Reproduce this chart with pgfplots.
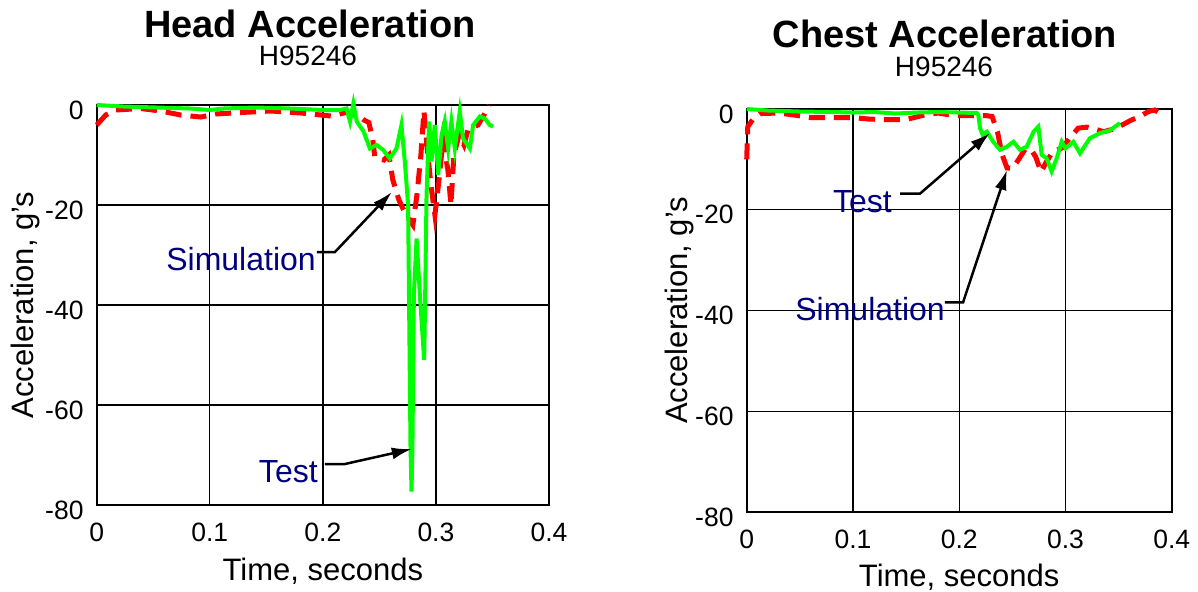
\documentclass[border=0pt]{standalone}
\usepackage{fontspec}
\setmainfont{Liberation Sans}
\usepackage{pgfplots}
\pgfplotsset{compat=1.18}
\usetikzlibrary{arrows.meta}
\definecolor{navy}{RGB}{0,0,128}
\definecolor{pgreen}{RGB}{0,255,0}
\definecolor{pred}{RGB}{255,0,0}

\pgfplotsset{
 myaxis/.style={
  scale only axis,
  xmin=0,xmax=0.4,ymin=-80,ymax=0,
  xtick={0,0.1,0.2,0.3,0.4},
  ytick={-80,-60,-40,-20,0},
  xticklabels={0,0.1,0.2,0.3,0.4},
  yticklabels={-80,-60,-40,-20,0},
  grid=major,
  major grid style={black,line width=1.3bp},
  axis line style={black,line width=2bp},
  major tick length=0pt,
  tick label style={font=\fontsize{26.5bp}{30bp}\selectfont, inner sep=0pt},
  xticklabel style={anchor=north, yshift=-18bp},
  yticklabel style={anchor=east, xshift=-13bp, yshift=-5bp},
  label style={font=\fontsize{31bp}{36bp}\selectfont},
  xlabel={Time, seconds},
  ylabel={Acceleration, g's},
  clip=false,
 },
}
\tikzset{
 simline/.style={pred, line width=5bp, dash pattern=on 16bp off 9bp},
 testline/.style={pgreen, line width=4bp},
 lab/.style={navy, anchor=base east, font=\fontsize{32bp}{36bp}\selectfont, inner sep=0pt},
 arr/.style={black, line width=2.5bp, -{Latex[length=20bp,width=12bp]}},
}

\begin{document}
\begin{tikzpicture}
\useasboundingbox (0,0) rectangle (1198bp,-592bp);

% ---------- Head ----------
\begin{axis}[myaxis,
  at={(96.7bp,-505bp)}, anchor=south west,
  width=452.3bp, height=400bp,
  xlabel style={at={(axis description cs:0.5,-0.1875)}, anchor=base},
  ylabel style={at={(axis description cs:-0.139,0.5)}, anchor=base},
]
\addplot[simline] coordinates {
(0,-4) (0.008,-2) (0.0168,-1) (0.0389,-0.7) (0.0566,-1.2) (0.0743,-2) (0.092,-2.4)
(0.1053,-1.8) (0.1274,-1.5) (0.154,-1.2) (0.1805,-1.6) (0.1982,-2) (0.2071,-2.2)
(0.2204,-1.5) (0.2319,-2.2) (0.2363,-3) (0.2407,-3.5) (0.2442,-7) (0.246,-10.5)
(0.254,-11) (0.2584,-10) (0.2619,-15) (0.2673,-19) (0.2735,-22) (0.2796,-24)
(0.2832,-18) (0.2867,-10) (0.2894,-1.2) (0.292,-8) (0.2956,-16) (0.2991,-22)
(0.3027,-15) (0.3062,-7) (0.3106,-13) (0.3133,-20) (0.3159,-10) (0.3204,-6)
(0.3248,-8) (0.3283,-5) (0.3372,-4) (0.3425,-2) (0.3469,0)
};
\addplot[testline] coordinates {
(0,0) (0.0236,-0.3) (0.053,-0.5) (0.0825,-0.7) (0.1,-1) (0.112,-0.7) (0.141,-0.5)
(0.171,-0.7) (0.2,-1) (0.215,-1) (0.221,-0.7) (0.224,-3.3) (0.227,0.3) (0.230,-3.3)
(0.236,-5.3) (0.2416,-8.7) (0.2475,-8) (0.2534,-9) (0.2592,-10.7) (0.2651,-8.7)
(0.2695,-4) (0.2725,-11.3) (0.2754,-20) (0.2775,-68) (0.2784,-77.3) (0.2792,-68.7)
(0.2805,-38) (0.2829,-26.7) (0.2858,-38) (0.2896,-51) (0.2905,-38) (0.2917,-18)
(0.294,-3.3) (0.2961,-11.3) (0.299,-4) (0.302,-14) (0.305,-6) (0.3078,-3.3)
(0.3108,-8.7) (0.3137,-3.3) (0.3167,-8.7) (0.3211,-1.3) (0.324,-6.7) (0.33,-8.7)
(0.3329,-4) (0.3388,-2.3) (0.3432,-2.7) (0.3476,-4) (0.3506,-4.3)
};
\node[lab] at (axis cs:0.1939,-33) {Simulation};
\node[lab] at (axis cs:0.1956,-75.4) {Test};
\draw[arr] (axis cs:0.1948,-29.4) -- (axis cs:0.2107,-29.4) -- (axis cs:0.261,-17.4);
\draw[arr] (axis cs:0.2018,-71.8) -- (axis cs:0.2195,-71.8) -- (axis cs:0.2787,-68.8);
\end{axis}

% ---------- Chest ----------
\begin{axis}[myaxis,
  at={(746.7bp,-512bp)}, anchor=south west,
  width=425bp, height=403bp,
  xlabel style={at={(axis description cs:0.5,-0.186)}, anchor=base},
  ylabel style={at={(axis description cs:-0.139,0.5)}, anchor=base},
]
\addplot[simline] coordinates {
(0,-10) (0.001,-3.5) (0.006,-2) (0.013,-0.9) (0.03,-0.8) (0.045,-1.2) (0.06,-1.7)
(0.08,-1.7) (0.1,-1.7) (0.115,-2.0) (0.13,-2.1) (0.15,-2.1) (0.165,-1.3) (0.18,-0.8)
(0.195,-1.3) (0.21,-1.3) (0.225,-1.3) (0.231,-1.5) (0.236,-4.5) (0.24,-8.8)
(0.245,-11.7) (0.25,-11.8) (0.256,-10) (0.262,-8) (0.268,-8.2) (0.272,-9.5)
(0.277,-12.5) (0.282,-10.5) (0.288,-8.5) (0.297,-7.7) (0.305,-5.5) (0.312,-3.8)
(0.32,-3.6) (0.328,-4) (0.336,-4.5) (0.345,-4) (0.353,-3.2) (0.362,-2.2)
(0.37,-1.5) (0.378,-0.5) (0.384,-0.2) (0.39,-1)
};
\addplot[testline] coordinates {
(0,0) (0.02,-0.3) (0.05,-0.5) (0.08,-0.6) (0.1,-0.7) (0.12,-0.6) (0.14,-0.9)
(0.16,-0.7) (0.18,-0.6) (0.2,-0.7) (0.2165,-0.8) (0.218,-1.2) (0.2196,-3.8)
(0.222,-5.1) (0.226,-4.5) (0.232,-6.5) (0.2384,-8.1) (0.2447,-7.5) (0.251,-6.5)
(0.2572,-8.1) (0.2635,-7.5) (0.27,-4.5) (0.2745,-3.5) (0.2776,-9.1) (0.2823,-9.8)
(0.287,-12.4) (0.2917,-9.8) (0.2965,-6.5) (0.3,-7.8) (0.3074,-6.5) (0.3137,-8.8)
(0.323,-5.8) (0.3325,-4.8) (0.342,-4.2) (0.3513,-2.8)
};
\node[lab] at (axis cs:0.1368,-20.45) {Test};
\node[lab] at (axis cs:0.1866,-41.9) {Simulation};
\draw[arr] (axis cs:0.1443,-16.8) -- (axis cs:0.1631,-16.8) -- (axis cs:0.229,-4.75);
\draw[arr] (axis cs:0.1866,-38.4) -- (axis cs:0.2036,-38.4) -- (axis cs:0.245,-12.1);
\end{axis}

% ---------- titles ----------
\node[anchor=base, inner sep=0pt, font=\fontsize{38bp}{42bp}\selectfont\bfseries] at (310bp,-37bp) {Head Acceleration};
\node[anchor=base, inner sep=0pt, font=\fontsize{28bp}{32bp}\selectfont] at (308bp,-65bp) {H95246};
\node[anchor=base, inner sep=0pt, font=\fontsize{38bp}{42bp}\selectfont\bfseries] at (945bp,-47bp) {Chest Acceleration};
\node[anchor=base, inner sep=0pt, font=\fontsize{28bp}{32bp}\selectfont] at (944bp,-76bp) {H95246};
\end{tikzpicture}
\end{document}
